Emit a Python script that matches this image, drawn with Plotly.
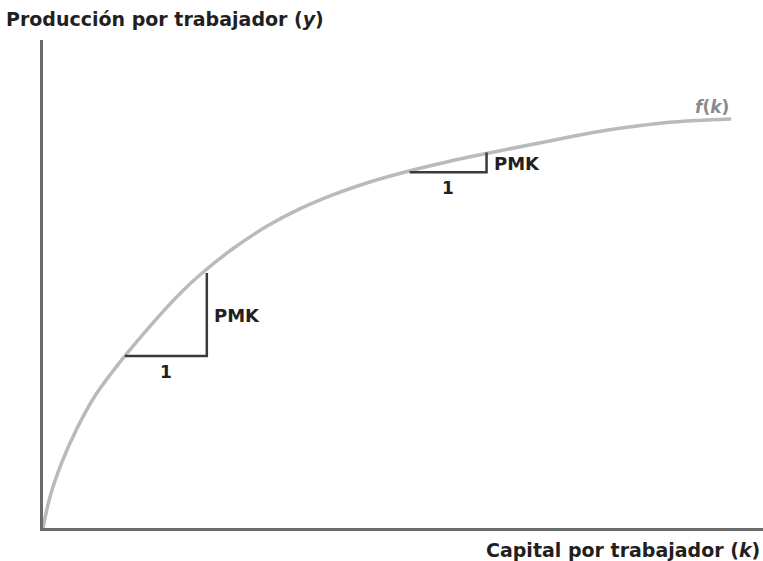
import plotly.graph_objects as go

k_values = [0.0, 0.085, 0.232, 0.415, 0.634, 0.939, 1.305, 1.512, 1.707, 1.915,
            2.317, 2.732, 3.134, 3.537, 3.951, 4.354, 4.927, 5.415, 6.061, 6.756,
            7.159, 7.561, 7.976, 8.402]
y_values = [0.0, 0.378, 0.805, 1.215, 1.610, 2.022, 2.458, 2.690, 2.893, 3.085,
            3.405, 3.678, 3.890, 4.061, 4.207, 4.323, 4.463, 4.567, 4.695, 4.829,
            4.890, 4.939, 4.970, 4.988]

# Marginal product triangles: start k, step in k, f at start, f at end
tri_k = [1.0, 4.476]
tri_dk = [1.0, 0.939]
tri_f_start = [2.098, 4.338]
tri_f_end = [3.110, 4.577]

x_label = "Capital por trabajador (<i>k</i>)"
y_label = "Producción por trabajador (<i>y</i>)"
curve_label = "<i>f</i>(<i>k</i>)"
step_label = "1"
mp_label = "PMK"

x_max = 8.79
y_max = 5.95

FONT = "DejaVu Sans"
TXT = "#231f20"

fig = go.Figure()
fig.add_trace(go.Scatter(x=k_values, y=y_values, mode="lines",
                         line=dict(color="#b9babd", width=3.5, shape="spline", smoothing=1.0),
                         hoverinfo="skip", showlegend=False))

for k0, dk, f0, f1 in zip(tri_k, tri_dk, tri_f_start, tri_f_end):
    fig.add_trace(go.Scatter(x=[k0, k0 + dk, k0 + dk], y=[f0, f0, f1],
                             mode="lines", line=dict(color="#3a3a3a", width=2.5),
                             hoverinfo="skip", showlegend=False))
    fig.add_annotation(x=k0 + dk / 2, y=f0, text=step_label, showarrow=False,
                       yanchor="top", yshift=-4,
                       font=dict(family=FONT, size=17, color=TXT, weight="bold"))
    fig.add_annotation(x=k0 + dk, y=(f0 + f1) / 2, text=mp_label, showarrow=False,
                       xanchor="left", xshift=5, yshift=-1,
                       font=dict(family=FONT, size=18, color=TXT, weight="bold"))

fig.add_annotation(x=k_values[-1], y=y_values[-1], text=curve_label, showarrow=False,
                   xanchor="right", yanchor="bottom", yshift=0,
                   font=dict(family=FONT, size=17, color="#8a8a8c", weight="bold"))

fig.add_annotation(xref="paper", yref="paper", x=0, y=1.0, yshift=21, xshift=-39,
                   xanchor="left", yanchor="middle", text=y_label, showarrow=False,
                   font=dict(family=FONT, size=19, color=TXT, weight="bold"))
fig.add_annotation(xref="paper", yref="paper", x=1.0, y=0, yshift=-22, xshift=-1,
                   xanchor="right", yanchor="middle", text=x_label, showarrow=False,
                   font=dict(family=FONT, size=19, color=TXT, weight="bold"))

fig.update_xaxes(range=[0, x_max], showline=True, linecolor="#6b6b6b", linewidth=3,
                 showgrid=False, zeroline=False, showticklabels=False, ticks="")
fig.update_yaxes(range=[0, y_max], showline=True, linecolor="#6b6b6b", linewidth=3,
                 showgrid=False, zeroline=False, showticklabels=False, ticks="")

fig.update_layout(width=763, height=561, margin=dict(l=43, r=0, t=40, b=33),
                  plot_bgcolor="white", paper_bgcolor="white",
                  font=dict(family=FONT, color=TXT))

fig.write_html("out.html", config={"displayModeBar": False},
               post_script="document.body.style.margin='0';document.body.style.overflow='hidden';")
